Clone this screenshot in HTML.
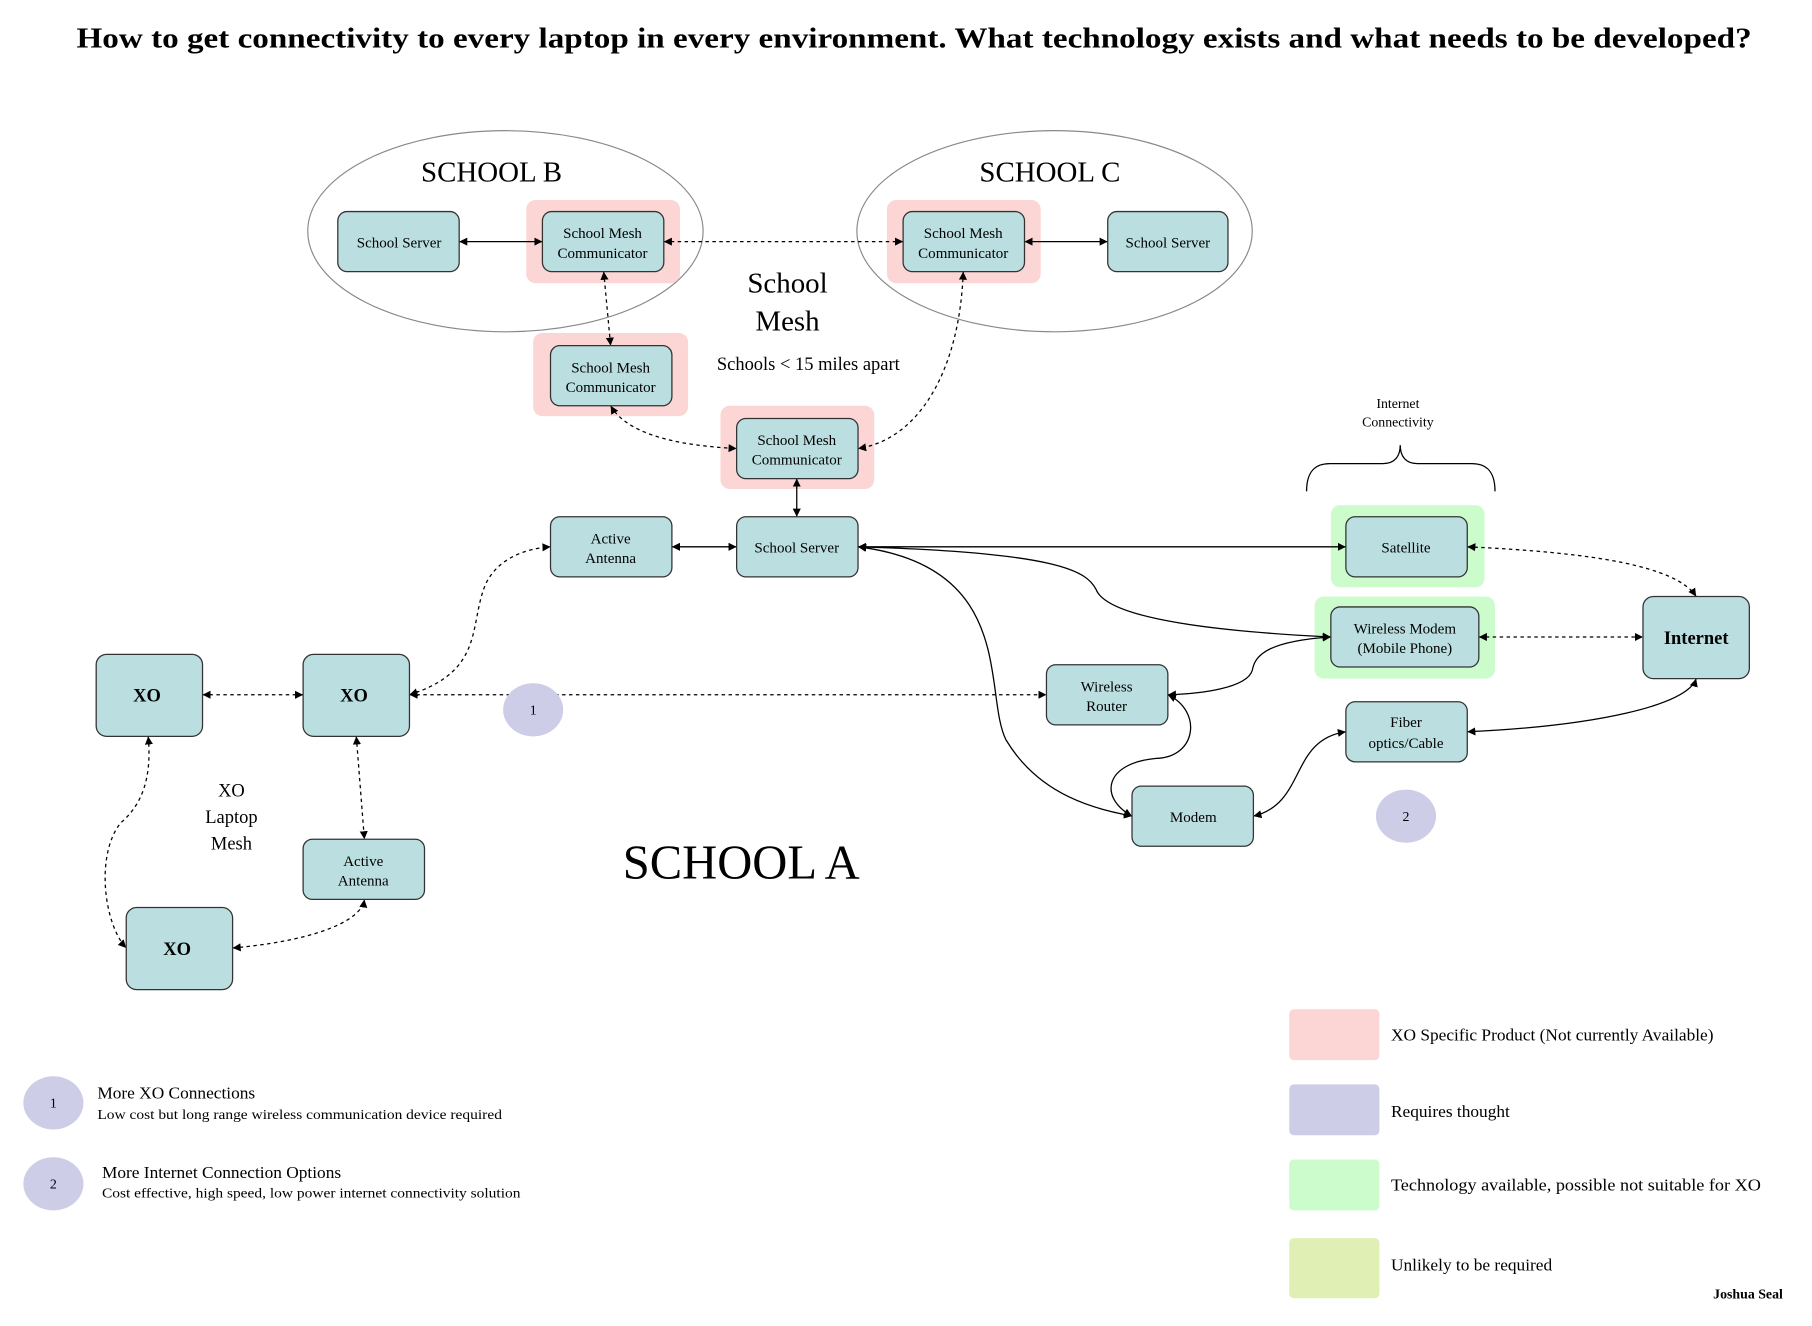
<!DOCTYPE html>
<html><head><meta charset="utf-8"><style>
html,body{margin:0;padding:0;background:#fff;}
svg{display:block;}
text{font-family:"Liberation Serif",serif;fill:#000;}
</style></head><body>
<svg width="1812" height="1326" viewBox="0 0 1567 1147" xmlns="http://www.w3.org/2000/svg">
<defs>
<marker id="a" viewBox="0 0 10 10" refX="10" refY="5" markerWidth="7" markerHeight="7" orient="auto-start-reverse" markerUnits="userSpaceOnUse"><path d="M0,0 L10,5 L0,10 z" fill="#000"/></marker>
</defs>
<rect width="1567" height="1147" fill="#fff"/>
<text x="66" y="41" font-size="25" font-weight="bold" textLength="1449" lengthAdjust="spacingAndGlyphs">How to get connectivity to every laptop in every environment. What technology exists and what needs to be developed?</text>

<ellipse cx="437" cy="200" rx="171" ry="87" fill="none" stroke="#888" stroke-width="1"/>
<ellipse cx="912" cy="200" rx="171" ry="87" fill="none" stroke="#888" stroke-width="1"/>
<text x="425" y="157" text-anchor="middle" font-size="25">SCHOOL B</text>
<text x="908" y="157" text-anchor="middle" font-size="25">SCHOOL C</text>

<g fill="#fcd5d5">
<rect x="455" y="173" width="133" height="72" rx="8"/>
<rect x="767" y="173" width="133" height="72" rx="8"/>
<rect x="461" y="288" width="134" height="72" rx="8"/>
<rect x="623" y="351" width="133" height="72" rx="8"/>
</g>
<g fill="#ccfccc">
<rect x="1151" y="437" width="133" height="71" rx="8"/>
<rect x="1137" y="516" width="156" height="71" rx="8"/>
</g>

<g fill="none" stroke="#000" stroke-width="1.1" marker-start="url(#a)" marker-end="url(#a)">
<path d="M397,209 L469,209"/>
<path d="M886,209 L958,209"/>
<path d="M689,414 L689,447"/>
<path d="M581,473 L637,473"/>
<path d="M742,473 L1164,473"/>
<path d="M742,473 C920,478 940,495 948,510 C960,540 1090,548 1151,551"/>
<path d="M742,473 C880,490 850,600 870,640 C900,690 950,700 979,706"/>
<path d="M1151,551 C1090,555 1085,570 1083,580 C1078,595 1040,600 1010,601"/>
<path d="M1010,601 C1040,615 1035,655 1000,656 C955,660 950,690 979,706"/>
<path d="M1084,706 C1130,695 1115,640 1164,633"/>
<path d="M1269,633 C1380,628 1460,610 1467,587"/>
</g>
<g fill="none" stroke="#000" stroke-width="1.1" stroke-dasharray="3,3" marker-start="url(#a)" marker-end="url(#a)">
<path d="M574,209 L781,209"/>
<path d="M522,235 L528,299"/>
<path d="M528,351 C545,380 600,386 637,388"/>
<path d="M833,235 C830,320 795,380 742,388"/>
<path d="M1269,473 C1380,478 1450,490 1467,516"/>
<path d="M1279,551 L1421,551"/>
<path d="M354,601 L905,601"/>
<path d="M175,601 L262,601"/>
<path d="M354,601 C420,580 405,540 420,505 C432,480 460,474 476,473"/>
<path d="M308,637 L315,726"/>
<path d="M128,637 C132,680 118,700 104,712 C82,740 90,800 109,820"/>
<path d="M201,820 C260,815 312,800 315,778"/>
</g>

<g fill="#bbdfe0" stroke="#333" stroke-width="1.1">
<rect x="292" y="183" width="105" height="52" rx="8"/>
<rect x="469" y="183" width="105" height="52" rx="8"/>
<rect x="781" y="183" width="105" height="52" rx="8"/>
<rect x="958" y="183" width="104" height="52" rx="8"/>
<rect x="476" y="299" width="105" height="52" rx="8"/>
<rect x="637" y="362" width="105" height="52" rx="8"/>
<rect x="476" y="447" width="105" height="52" rx="8"/>
<rect x="637" y="447" width="105" height="52" rx="8"/>
<rect x="1164" y="447" width="105" height="52" rx="8"/>
<rect x="1151" y="525" width="128" height="52" rx="8"/>
<rect x="1421" y="516" width="92" height="71" rx="9"/>
<rect x="905" y="575" width="105" height="52" rx="8"/>
<rect x="1164" y="607" width="105" height="52" rx="8"/>
<rect x="979" y="680" width="105" height="52" rx="8"/>
<rect x="83" y="566" width="92" height="71" rx="9"/>
<rect x="262" y="566" width="92" height="71" rx="9"/>
<rect x="109" y="785" width="92" height="71" rx="9"/>
<rect x="262" y="726" width="105" height="52" rx="8"/>
</g>

<g font-size="13" text-anchor="middle">
<text x="345" y="214">School Server</text>
<text x="521" y="206">School Mesh</text><text x="521" y="223">Communicator</text>
<text x="833" y="206">School Mesh</text><text x="833" y="223">Communicator</text>
<text x="1010" y="214">School Server</text>
<text x="528" y="322">School Mesh</text><text x="528" y="339">Communicator</text>
<text x="689" y="385">School Mesh</text><text x="689" y="402">Communicator</text>
<text x="528" y="470">Active</text><text x="528" y="487">Antenna</text>
<text x="689" y="478">School Server</text>
<text x="1216" y="478">Satellite</text>
<text x="1215" y="548">Wireless Modem</text><text x="1215" y="565">(Mobile Phone)</text>
<text x="957" y="598">Wireless</text><text x="957" y="615">Router</text>
<text x="1216" y="629">Fiber</text><text x="1216" y="647">optics/Cable</text>
<text x="1032" y="711">Modem</text>
<text x="314" y="749">Active</text><text x="314" y="766">Antenna</text>
<text x="1209" y="353" font-size="12">Internet</text><text x="1209" y="369" font-size="12">Connectivity</text>
</g>
<g font-size="16" font-weight="bold" text-anchor="middle">
<text x="1467" y="557">Internet</text>
<text x="127" y="607">XO</text>
<text x="306" y="607">XO</text>
<text x="153" y="826">XO</text>
</g>

<text x="681" y="253" font-size="25" text-anchor="middle">School</text>
<text x="681" y="286" font-size="25" text-anchor="middle">Mesh</text>
<text x="699" y="320" font-size="16" text-anchor="middle">Schools &lt; 15 miles apart</text>
<g font-size="16" text-anchor="middle">
<text x="200" y="689">XO</text><text x="200" y="712">Laptop</text><text x="200" y="735">Mesh</text>
</g>
<text x="641" y="760" font-size="42" text-anchor="middle">SCHOOL A</text>

<path d="M1130,425 C1130,405 1140,401 1150,401 L1196,401 C1206,401 1211,395 1211,385 C1211,395 1216,401 1226,401 L1273,401 C1283,401 1293,405 1293,425" fill="none" stroke="#000" stroke-width="1.1"/>

<g fill="#cdcde8">
<ellipse cx="461" cy="614" rx="26" ry="23"/>
<ellipse cx="1216" cy="706" rx="26" ry="23"/>
<ellipse cx="46" cy="954" rx="26" ry="23"/>
<ellipse cx="46" cy="1024" rx="26" ry="23"/>
</g>
<g font-size="12" text-anchor="middle">
<text x="461" y="618">1</text><text x="1216" y="710">2</text>
<text x="46" y="958">1</text><text x="46" y="1028">2</text>
</g>
<text x="84" y="950" font-size="15">More XO Connections</text>
<text x="84" y="968" font-size="12" textLength="350" lengthAdjust="spacingAndGlyphs">Low cost but long range wireless communication device required</text>
<text x="88" y="1019" font-size="15">More Internet Connection Options</text>
<text x="88" y="1036" font-size="12" textLength="362" lengthAdjust="spacingAndGlyphs">Cost effective, high speed, low power internet connectivity solution</text>

<rect x="1115" y="873" width="78" height="44" rx="4" fill="#fcd5d5"/>
<rect x="1115" y="938" width="78" height="44" rx="4" fill="#cdcde8"/>
<rect x="1115" y="1003" width="78" height="44" rx="4" fill="#ccfccc"/>
<rect x="1115" y="1071" width="78" height="52" rx="4" fill="#e0efb4"/>
<g font-size="15">
<text x="1203" y="900">XO Specific Product (Not currently Available)</text>
<text x="1203" y="966">Requires thought</text>
<text x="1203" y="1030" textLength="320" lengthAdjust="spacingAndGlyphs">Technology available, possible not suitable for XO</text>
<text x="1203" y="1099">Unlikely to be required</text>
</g>
<text x="1542" y="1123" font-size="12" font-weight="bold" text-anchor="end">Joshua Seal</text>
</svg>
</body></html>
